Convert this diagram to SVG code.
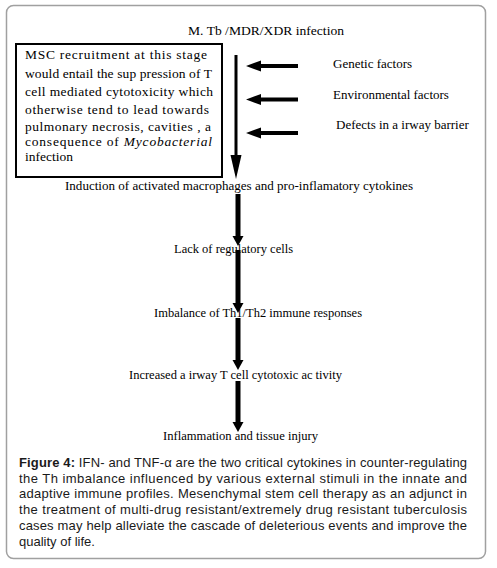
<svg xmlns="http://www.w3.org/2000/svg" width="497" height="568" viewBox="0 0 497 568">
<style>
.t{font-size:13px;fill:#000}
.bx{font-size:13.5px;fill:#000}
.cap{font-family:"Liberation Sans",Arial,sans-serif;font-size:13px;fill:#1a1a1a}
.shaft{stroke:#000;fill:none}
.head{fill:#000;stroke:none}
</style>
<rect x="6.5" y="5.5" width="479" height="553" rx="7" fill="#fff" stroke="#a0a0a0" stroke-width="1.5"/>

<g font-family="Liberation Serif, Times New Roman, Times, serif">
<g id="title"><text class="t" x="188" y="35" textLength="156" lengthAdjust="spacingAndGlyphs">M. Tb /MDR/XDR infection</text></g>

<g id="msc-box">
<rect x="16" y="44" width="206" height="133" fill="#fff" stroke="#000" stroke-width="2"/>
<text class="bx" x="25" y="59" textLength="182" lengthAdjust="spacing">MSC  recruitment at this stage</text>
<text class="bx" x="25" y="78" textLength="187" lengthAdjust="spacing">would entail the sup pression of T</text>
<text class="bx" x="25" y="96" textLength="188" lengthAdjust="spacing">cell mediated cytotoxicity which</text>
<text class="bx" x="25" y="114" textLength="184" lengthAdjust="spacing">otherwise tend to lead towards</text>
<text class="bx" x="25" y="131" textLength="186" lengthAdjust="spacing">pulmonary necrosis, cavities ,  a</text>
<text class="bx" x="25" y="146" textLength="187" lengthAdjust="spacing">consequence   of   <tspan font-style="italic">Mycobacterial</tspan></text>
<text class="bx" x="25" y="161">infection</text>
</g>

<g id="genetic"><text class="t" x="333" y="68">Genetic factors</text></g>
<g id="environmental"><text class="t" x="333" y="99">Environmental factors</text></g>
<g id="defects"><text class="t" x="336" y="129">Defects in a irway barrier</text></g>

<g id="induction"><text class="t" x="65" y="190" textLength="348" lengthAdjust="spacingAndGlyphs">Induction of activated macrophages and pro-inflamatory cytokines</text></g>
<g id="lack"><text class="t" x="174" y="253" textLength="119" lengthAdjust="spacingAndGlyphs">Lack of regulatory cells</text></g>
<g id="imbalance"><text class="t" x="154" y="317" textLength="208" lengthAdjust="spacingAndGlyphs">Imbalance of Th1/Th2 immune responses</text></g>
<g id="increased"><text class="t" x="129" y="379" textLength="213" lengthAdjust="spacingAndGlyphs">Increased a irway T cell cytotoxic ac tivity</text></g>
<g id="inflammation"><text class="t" x="163" y="440" textLength="155" lengthAdjust="spacingAndGlyphs">Inflammation and tissue injury</text></g>
</g>

<g id="connectors">
<line class="shaft" x1="236" y1="55" x2="236" y2="158" stroke-width="3"/>
<polygon class="head" points="230.5,155 241.5,155 236,179"/>
<line class="shaft" x1="298" y1="66" x2="258" y2="66" stroke-width="4"/>
<polygon class="head" points="246,66 261,60.5 261,71.5"/>
<line class="shaft" x1="298" y1="99.5" x2="258" y2="99.5" stroke-width="4"/>
<polygon class="head" points="246,99.5 261,94 261,105"/>
<line class="shaft" x1="298" y1="133" x2="258" y2="133" stroke-width="4"/>
<polygon class="head" points="246,133 261,127.5 261,138.5"/>
<line class="shaft" x1="238" y1="194" x2="238" y2="238" stroke-width="5"/>
<polygon class="head" points="232.5,236 243.5,236 238,246"/>
<line class="shaft" x1="238" y1="250" x2="238" y2="305" stroke-width="5"/>
<polygon class="head" points="232.5,303 243.5,303 238,313"/>
<line class="shaft" x1="238" y1="318" x2="238" y2="362" stroke-width="5"/>
<polygon class="head" points="232.5,360 243.5,360 238,370"/>
<line class="shaft" x1="238" y1="381" x2="238" y2="424" stroke-width="5"/>
<polygon class="head" points="232.5,422 243.5,422 238,432"/>
</g>

<g id="caption">
<text class="cap" x="19" y="467" textLength="448" lengthAdjust="spacing"><tspan font-weight="bold">Figure 4:</tspan> IFN- and TNF-α are the two critical cytokines in counter-regulating</text>
<text class="cap" x="19" y="482.5" textLength="448" lengthAdjust="spacing">the Th imbalance influenced by various external stimuli in the innate and</text>
<text class="cap" x="19" y="498" textLength="448" lengthAdjust="spacing">adaptive immune profiles. Mesenchymal stem cell therapy as an adjunct in</text>
<text class="cap" x="19" y="514" textLength="448" lengthAdjust="spacing">the treatment of multi-drug resistant/extremely drug resistant tuberculosis</text>
<text class="cap" x="19" y="530" textLength="448" lengthAdjust="spacing">cases may help alleviate the cascade of deleterious events and improve the</text>
<text class="cap" x="19" y="546">quality of life.</text>
</g>
</svg>
